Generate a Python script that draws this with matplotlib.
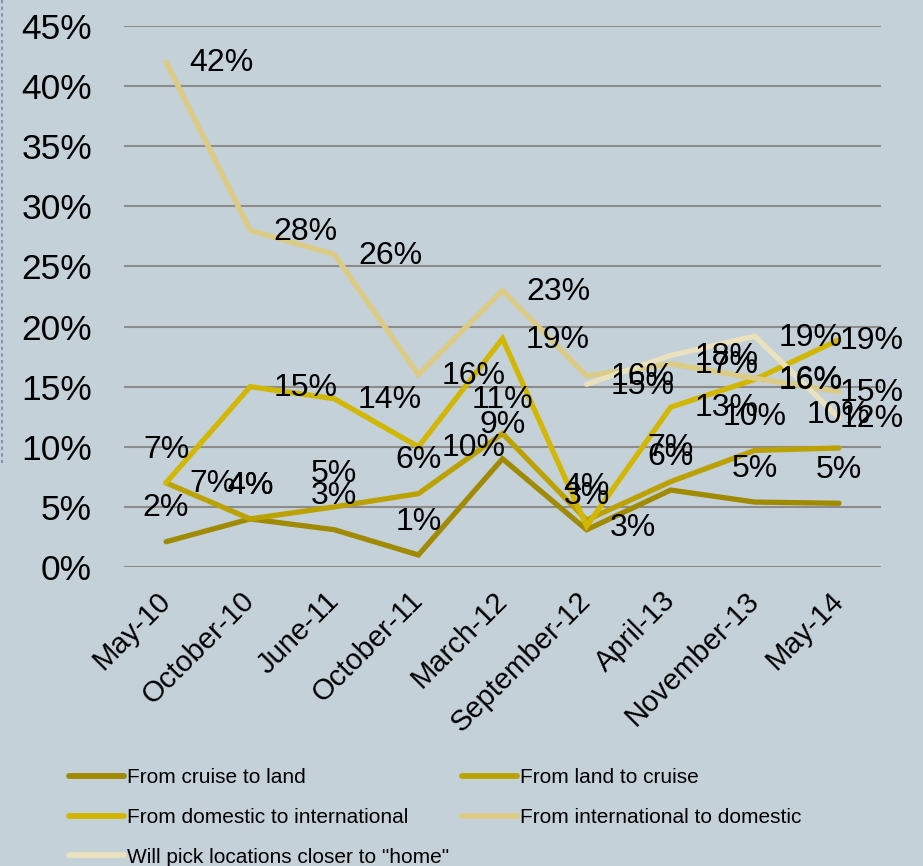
import numpy as np
import matplotlib
matplotlib.use("Agg")
import matplotlib.pyplot as plt
from matplotlib.lines import Line2D
from matplotlib.ticker import FuncFormatter, MultipleLocator

plt.rcParams['font.family'] = ['Liberation Sans', 'DejaVu Sans']

# ---------------- data ----------------
categories = ["May-10", "October-10", "June-11", "October-11", "March-12",
              "September-12", "April-13", "November-13", "May-14"]
nan = np.nan
cruise_to_land = [2.1, 4.0, 3.1, 1.0, 9.0, 3.1, 6.4, 5.4, 5.3]
land_to_cruise = [7.0, 4.0, 5.0, 6.1, 11.1, 3.9, 7.1, 9.7, 9.9]
domestic_to_international = [7.0, 15.0, 14.0, 10.0, 19.0, 3.4, 13.3, 15.6, 18.9]
international_to_domestic = [42.0, 28.0, 26.0, 16.0, 23.0, 15.9, 16.9, 15.7, 14.6]
closer_to_home = [nan, nan, nan, nan, nan, 15.2, 17.6, 19.2, 12.4]

series_names = ["From cruise to land", "From land to cruise",
                "From domestic to international", "From international to domestic",
                'Will pick locations closer to "home"']
series_values = [cruise_to_land, land_to_cruise, domestic_to_international,
                 international_to_domestic, closer_to_home]
series_colors = ["#A08A00", "#BBA200", "#D1B700", "#DCCB84", "#EAE1BD"]
label_pos = ["above", "above", "right", "right", "right"]

# ---------------- figure ----------------
W, H = 923, 866
bg = "#C5D1D8"
fig = plt.figure(figsize=(W / 100, H / 100), dpi=100, facecolor=bg)
ax = fig.add_axes([124 / W, 1 - 567 / H, (881 - 124) / W, (567 - 26) / H])
ax.set_facecolor(bg)

x = np.arange(len(categories))
lines = []
for name, vals, col in zip(series_names, series_values, series_colors):
    ln, = ax.plot(x, vals, color=col, lw=3.8, solid_capstyle='round',
                  solid_joinstyle='miter', label=name, zorder=3)
    lines.append(ln)

ax.set_xlim(-0.5, len(categories) - 0.5)
ax.set_ylim(0, 45)
ax.yaxis.set_major_locator(MultipleLocator(5))
ax.yaxis.set_major_formatter(FuncFormatter(lambda v, p: f"{v:.0f}%"))
ax.grid(axis='y', color='#8C8C8C', lw=1.5, zorder=1)
ax.set_axisbelow(True)
for s in ax.spines.values():
    s.set_visible(False)

ax.tick_params(axis='y', length=0, pad=23, labelsize=25.5)
ax.tick_params(axis='x', length=0, pad=21, labelsize=21)
ax.set_xticks(x)
ax.set_xticklabels(categories, rotation=45, ha='right', va='center',
                   rotation_mode='anchor')

# ---------------- data labels ----------------
texts = []
for vals, pos in zip(series_values, label_pos):
    for i, v in enumerate(vals):
        if np.isnan(v):
            continue
        lab = f"{int(round(v))}%"
        if pos == "above":
            t = ax.annotate(lab, (x[i], v), xytext=(0, 24), textcoords='offset points',
                            ha='center', va='center', fontsize=23, zorder=5)
        else:
            t = ax.annotate(lab, (x[i], v), xytext=(17, -1), textcoords='offset points',
                            ha='left', va='center', fontsize=23, zorder=5)
        texts.append(t)

# keep labels inside the chart area (like the spreadsheet does)
fig.canvas.draw()
r = fig.canvas.get_renderer()
limit = 904
for t in texts:
    bb = t.get_window_extent(r)
    if bb.x1 > limit:
        dx_pt = (bb.x1 - limit) * 72 / fig.dpi
        ox, oy = t.xyann
        t.xyann = (ox - dx_pt, oy)

# ---------------- legend ----------------
order = [0, 2, 4, 1, 3]
leg = fig.legend([lines[k] for k in order], [series_names[k] for k in order],
                 ncol=2, loc='upper left',
                 bbox_to_anchor=(69 / W, 1 - 768 / H), bbox_transform=fig.transFigure,
                 frameon=False, fontsize=15, handlelength=2.64, handletextpad=0.15,
                 columnspacing=0.62, labelspacing=1.0, borderpad=0, borderaxespad=0)
for h in leg.legend_handles:
    h.set_solid_capstyle('round')
    h.set_linewidth(4.2)

# dashed frame edge on the left
fig.add_artist(Line2D([1.5 / W, 1.5 / W], [1, 1 - 463 / H], transform=fig.transFigure,
                      color="#7486AE", lw=1.2, ls=(0, (2, 2))))

fig.savefig("out.png", dpi=100, facecolor=bg)
